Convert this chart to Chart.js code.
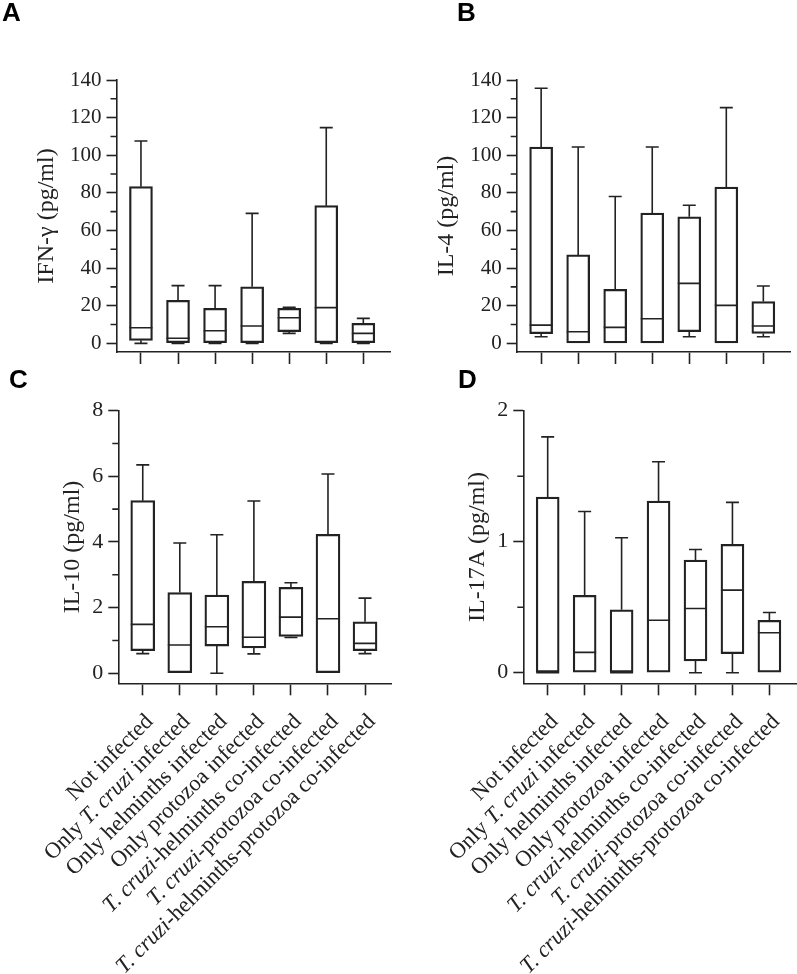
<!DOCTYPE html>
<html>
<head>
<meta charset="utf-8">
<title>Cytokine levels by infection group</title>
<script src="https://cdn.jsdelivr.net/npm/chart.js@4.4.1/dist/chart.umd.min.js"></script>
<style>
  body { margin: 0; background: #fff; }
  #fig { position: relative; width: 797px; height: 974px; overflow: hidden; }
  .panel { position: absolute; }
  .tag { position: absolute; font: bold 26px "Liberation Sans", Arial, sans-serif; line-height: 26px; color: #000; }
</style>
</head>
<body>
<div id="fig">
  <div class="panel" style="left:0;top:0"><canvas id="chartA" width="398" height="380"></canvas></div>
  <div class="panel" style="left:400px;top:0"><canvas id="chartB" width="397" height="380"></canvas></div>
  <div class="panel" style="left:0;top:370px"><canvas id="chartC" width="400" height="604"></canvas></div>
  <div class="panel" style="left:400px;top:370px"><canvas id="chartD" width="397" height="604"></canvas></div>
  <div class="tag" style="left:2px;top:-1px">A</div>
  <div class="tag" style="left:457px;top:-1px">B</div>
  <div class="tag" style="left:9px;top:366px">C</div>
  <div class="tag" style="left:458px;top:366px">D</div>
</div>

<script>
// groups on the x axis
const categories = [
  'Not infected',
  'Only T. cruzi infected',
  'Only helminths infected',
  'Only protozoa infected',
  'T. cruzi-helminths co-infected',
  'T. cruzi-protozoa co-infected',
  'T. cruzi-helminths-protozoa co-infected'
];

// A: IFN-γ (pg/ml) - whisker low, Q1, median, Q3, whisker high
const ifnMin = [0, 0, 0, 0, 5.3, 0, 0];
const ifnQ1  = [1.6, 0.4, 0.3, 0.3, 6.2, 0.3, 0.3];
const ifnMed = [8.3, 2.7, 6.7, 9.2, 13.6, 19.0, 5.3];
const ifnQ3  = [83.3, 22.9, 18.6, 30.1, 18.6, 73.2, 10.6];
const ifnMax = [107.6, 30.7, 30.7, 69.1, 19.1, 114.7, 13.3];

// B: IL-4 (pg/ml)
const il4Min = [3.5, 0, 0, 0, 3.5, 0, 3.5];
const il4Q1  = [5.1, 0, 0, 0, 6.2, 0, 5.3];
const il4Med = [9.7, 6.2, 8.5, 13.1, 31.9, 20.2, 9.2];
const il4Q3  = [104.4, 47.0, 28.7, 69.3, 67.3, 83.1, 22.2];
const il4Max = [135.6, 104.4, 78.1, 104.4, 73.4, 125.3, 30.5];

// C: IL-10 (pg/ml)
const il10Min = [0.60, 0, 0, 0.59, 1.09, 0, 0.60];
const il10Q1  = [0.69, 0, 0.83, 0.77, 1.12, 0, 0.69];
const il10Med = [1.49, 0.86, 1.42, 1.10, 1.71, 1.66, 0.91];
const il10Q3  = [5.26, 2.46, 2.38, 2.80, 2.62, 4.23, 1.57];
const il10Max = [6.35, 3.97, 4.22, 5.25, 2.76, 6.07, 2.29];

// D: IL-17A (pg/ml)
const il17Min = [0, 0, 0, 0, 0, 0, 0];
const il17Q1  = [0, 0, 0, 0, 0.09, 0.145, 0];
const il17Med = [0, 0.155, 0, 0.40, 0.49, 0.63, 0.305];
const il17Q3  = [1.34, 0.59, 0.48, 1.31, 0.86, 0.98, 0.40];
const il17Max = [1.80, 1.23, 1.03, 1.61, 0.94, 1.30, 0.46];

// y axis ticks (labelled) and minor ticks
const pgTicks = [0, 20, 40, 60, 80, 100, 120, 140];
const pgMinor = [10, 30, 50, 70, 90, 110, 130];
const il10Ticks = [0, 2, 4, 6, 8];
const il10Minor = [1, 3, 5, 7];
const il17Ticks = [0, 1, 2];
const il17Minor = [0.5, 1.5];

const INK = '#222';
const LINE = 1.6;
const SERIF = "'Liberation Serif', 'Times New Roman', serif";
const LABEL_SIZE = 22.5;

// split a label so "T. cruzi" can be drawn in italics
function splitItalic(label) {
  return label.split(/(T\. cruzi)/).filter(Boolean).map(function(s) {
    return { text: s, italic: s === 'T. cruzi' };
  });
}

function makePanel(id, p) {
  const canvas = document.getElementById(id);
  const W = canvas.width, H = canvas.height;

  // whiskers, caps and median line, placed with the chart's own scales
  const boxPlugin = {
    id: 'boxWhiskers',
    afterDatasetsDraw(chart) {
      const {ctx, scales: {x, y}} = chart;
      const half = p.boxWidth / 2, cap = 6.5;
      ctx.save();
      ctx.strokeStyle = INK;
      ctx.lineWidth = LINE;
      ctx.lineCap = 'butt';
      p.med.forEach(function(m, i) {
        const px = x.getPixelForValue(i + 1);
        const yMin = y.getPixelForValue(p.min[i]);
        const yQ1 = y.getPixelForValue(p.q1[i]);
        const yMed = y.getPixelForValue(m);
        const yQ3 = y.getPixelForValue(p.q3[i]);
        const yMax = y.getPixelForValue(p.max[i]);
        ctx.beginPath();
        ctx.moveTo(px, yQ3); ctx.lineTo(px, yMax);
        ctx.moveTo(px - cap, yMax); ctx.lineTo(px + cap, yMax);
        if (p.min[i] < p.q1[i]) {
          ctx.moveTo(px, yQ1); ctx.lineTo(px, yMin);
          ctx.moveTo(px - cap, yMin); ctx.lineTo(px + cap, yMin);
        }
        ctx.moveTo(px - half, yMed); ctx.lineTo(px + half, yMed);
        ctx.stroke();
      });
      ctx.restore();
    },
    afterDraw(chart) {
      const {ctx, scales: {x, y}, chartArea} = chart;
      // minor y ticks
      ctx.save();
      ctx.strokeStyle = INK;
      ctx.lineWidth = LINE;
      ctx.beginPath();
      p.minor.forEach(function(v) {
        const py = y.getPixelForValue(v);
        ctx.moveTo(chartArea.left - 6, py);
        ctx.lineTo(chartArea.left, py);
      });
      ctx.stroke();
      ctx.restore();

      if (!p.showLabels) return;
      // rotated group labels with italic species name
      ctx.save();
      ctx.fillStyle = INK;
      ctx.textBaseline = 'middle';
      categories.forEach(function(label, i) {
        const px = x.getPixelForValue(i + 1);
        const parts = splitItalic(label);
        ctx.save();
        ctx.translate(px + 7, chartArea.bottom + 35);
        ctx.rotate(-Math.PI / 4);
        let total = 0;
        parts.forEach(function(part) {
          ctx.font = (part.italic ? 'italic ' : '') + LABEL_SIZE + 'px ' + SERIF;
          part.w = ctx.measureText(part.text).width;
          total += part.w;
        });
        let cx = -total;
        parts.forEach(function(part) {
          ctx.font = (part.italic ? 'italic ' : '') + LABEL_SIZE + 'px ' + SERIF;
          ctx.fillText(part.text, cx, 0);
          cx += part.w;
        });
        ctx.restore();
      });
      ctx.restore();
    }
  };

  return new Chart(canvas, {
    type: 'bar',
    data: {
      datasets: [{
        data: p.q1.map(function(v, i) { return { x: i + 1, y: [v, p.q3[i]] }; }),
        backgroundColor: 'rgba(255,255,255,0)',
        borderColor: INK,
        borderWidth: LINE,
        borderSkipped: false,
        barThickness: p.boxWidth
      }]
    },
    options: {
      responsive: false,
      animation: false,
      layout: { padding: { top: p.area.top, right: W - p.area.right, bottom: 0, left: 0 } },
      plugins: { legend: { display: false }, tooltip: { enabled: false } },
      scales: {
        x: {
          type: 'linear',
          offset: false,
          min: 0.34,
          max: 7.72,
          afterBuildTicks: function(scale) {
            scale.ticks = categories.map(function(c, i) { return { value: i + 1 }; });
          },
          afterFit: function(scale) { scale.height = H - p.area.bottom; },
          ticks: { display: false },
          grid: { offset: false, drawOnChartArea: false, tickLength: 12, tickWidth: LINE, tickColor: INK },
          border: { color: INK, width: LINE }
        },
        y: {
          min: p.yMin,
          max: p.ticks[p.ticks.length - 1],
          afterBuildTicks: function(scale) {
            scale.ticks = p.ticks.map(function(v) { return { value: v }; });
          },
          afterFit: function(scale) { scale.width = p.area.left; },
          ticks: { color: INK, padding: 5, font: { family: SERIF, size: p.tickSize } },
          grid: { drawOnChartArea: false, tickLength: 10, tickWidth: LINE, tickColor: INK },
          border: { color: INK, width: LINE },
          title: {
            display: true,
            text: p.title,
            color: INK,
            font: { family: SERIF, size: 24, lineHeight: 1.2 },
            padding: { top: p.titleX - 14.4, bottom: 0 }
          }
        }
      }
    },
    plugins: [boxPlugin]
  });
}

makePanel('chartA', {
  title: 'IFN-γ (pg/ml)',
  min: ifnMin, q1: ifnQ1, med: ifnMed, q3: ifnQ3, max: ifnMax,
  ticks: pgTicks, minor: pgMinor, yMin: -4.6, tickSize: 21,
  area: { left: 116.5, top: 80, right: 390, bottom: 352 },
  titleX: 47, boxWidth: 23, showLabels: false
});

makePanel('chartB', {
  title: 'IL-4 (pg/ml)',
  min: il4Min, q1: il4Q1, med: il4Med, q3: il4Q3, max: il4Max,
  ticks: pgTicks, minor: pgMinor, yMin: -4.6, tickSize: 21,
  area: { left: 116.7, top: 80, right: 390, bottom: 352 },
  titleX: 47, boxWidth: 23, showLabels: false
});

makePanel('chartC', {
  title: 'IL-10 (pg/ml)',
  min: il10Min, q1: il10Q1, med: il10Med, q3: il10Q3, max: il10Max,
  ticks: il10Ticks, minor: il10Minor, yMin: -0.305, tickSize: 22,
  area: { left: 118.3, top: 40.7, right: 391.7, bottom: 313.3 },
  titleX: 72.5, boxWidth: 24, showLabels: true
});

makePanel('chartD', {
  title: 'IL-17A (pg/ml)',
  min: il17Min, q1: il17Q1, med: il17Med, q3: il17Q3, max: il17Max,
  ticks: il17Ticks, minor: il17Minor, yMin: -0.081, tickSize: 22,
  area: { left: 123.3, top: 40.7, right: 396, bottom: 313.3 },
  titleX: 77.5, boxWidth: 23, showLabels: true
});
</script>
</body>
</html>
